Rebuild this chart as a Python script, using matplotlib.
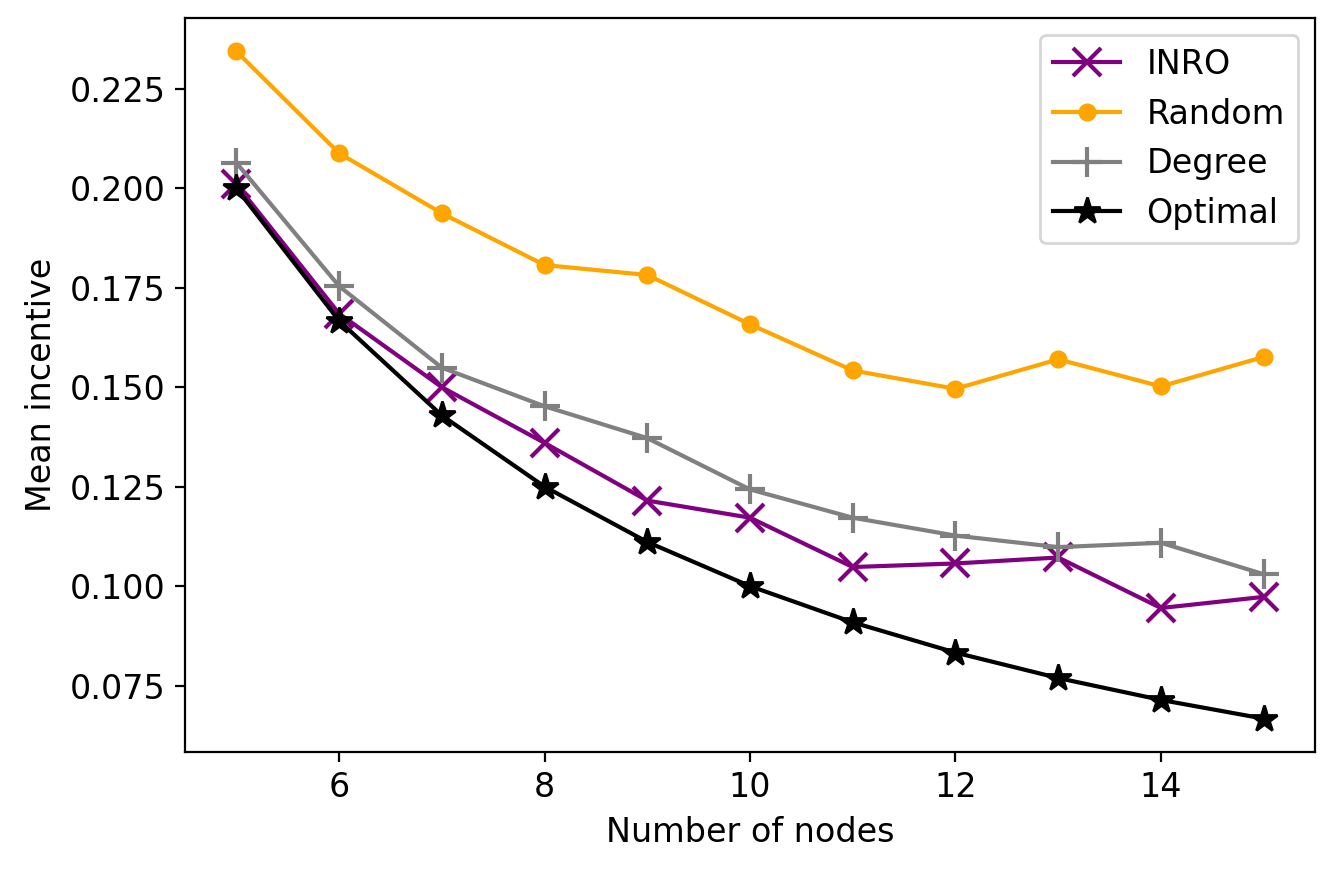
import matplotlib
matplotlib.use("Agg")
import matplotlib.pyplot as plt

nodes = [5, 6, 7, 8, 9, 10, 11, 12, 13, 14, 15]
inro = [0.2010, 0.1685, 0.1500, 0.1360, 0.1215, 0.1172, 0.1048, 0.1057, 0.1072, 0.0945, 0.0973]
random_ = [0.2344, 0.2088, 0.1937, 0.1807, 0.1782, 0.1658, 0.1542, 0.1496, 0.1570, 0.1502, 0.1576]
degree = [0.2064, 0.1754, 0.1549, 0.1452, 0.1372, 0.1243, 0.1172, 0.1127, 0.1098, 0.1109, 0.1030]
optimal = [0.2000, 0.1667, 0.1429, 0.1250, 0.1111, 0.1000, 0.0909, 0.0833, 0.0769, 0.0714, 0.0667]

plt.rcParams['font.family'] = ['DejaVu Sans']
plt.rcParams['font.size'] = 12

fig = plt.figure(figsize=(1335 / 200, 875 / 200), dpi=200)
ax = fig.add_axes([185 / 1335, 1 - 752 / 875, (1315 - 185) / 1335, (752 - 18) / 875])

ax.plot(nodes, inro, color='purple', marker='x', markersize=10, markeredgewidth=1.5, linewidth=1.5, label='INRO')
ax.plot(nodes, random_, color='orange', marker='o', markersize=5.5, linewidth=1.5, label='Random')
ax.plot(nodes, degree, color='gray', marker='+', markersize=11, markeredgewidth=1.5, linewidth=1.5, label='Degree')
ax.plot(nodes, optimal, color='black', marker='*', markersize=10, linewidth=1.5, label='Optimal')

ax.set_xlabel('Number of nodes')
ax.set_ylabel('Mean incentive')
ax.set_yticks([0.075, 0.100, 0.125, 0.150, 0.175, 0.200, 0.225])
ax.set_xticks([6, 8, 10, 12, 14])
ax.legend(loc='upper right')

fig.savefig('out.png', dpi=200)
